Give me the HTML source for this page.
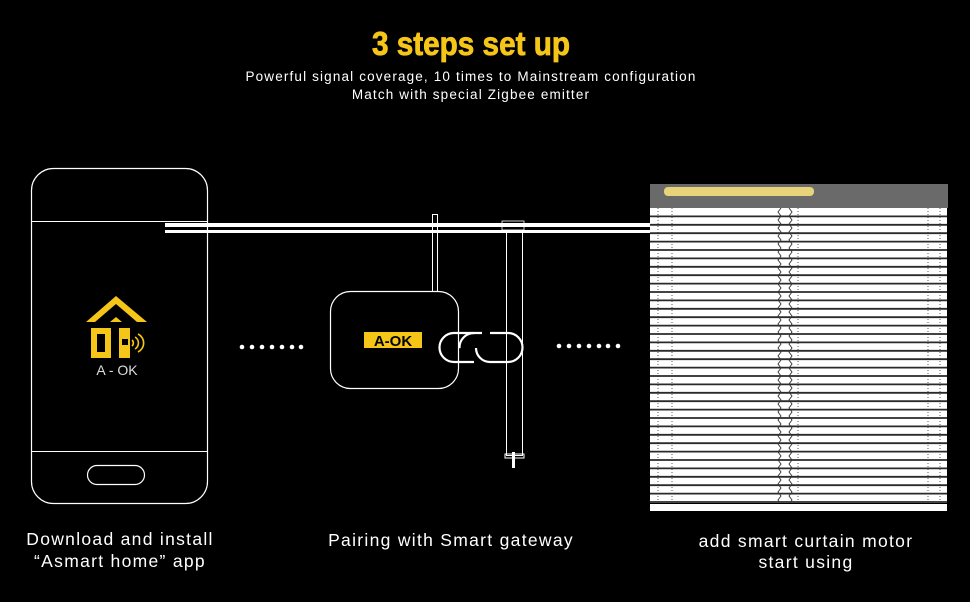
<!DOCTYPE html>
<html><head><meta charset="utf-8"><style>
body{margin:0;background:#000;width:970px;height:597px;overflow:hidden;font-family:"Liberation Sans",sans-serif;}
</style></head><body>
<svg width="970" height="597" viewBox="0 0 970 597" xmlns="http://www.w3.org/2000/svg">
<defs><clipPath id="bc"><rect x="650" y="208" width="297" height="294"/></clipPath></defs>
<rect width="970" height="597" fill="#000"/>
<text x="0" y="55" text-anchor="middle" font-family="Liberation Sans Narrow, Liberation Sans, sans-serif" font-weight="bold" font-size="33" fill="#f5c518" stroke="#f5c518" stroke-width="0.8" transform="translate(471 0) scale(0.9 1)">3 steps set up</text>
<text x="471" y="81" text-anchor="middle" font-size="13.5" letter-spacing="1.15" fill="#fff">Powerful signal coverage, 10 times to Mainstream configuration</text>
<text x="471" y="99" text-anchor="middle" font-size="13.5" letter-spacing="1.15" fill="#fff">Match with special Zigbee emitter</text>
<!-- phone -->
<rect x="31.5" y="168.5" width="176" height="335" rx="22" fill="none" stroke="#fff" stroke-width="1.2"/>
<line x1="32" y1="221.5" x2="207" y2="221.5" stroke="#fff"/>
<line x1="32" y1="451.5" x2="207" y2="451.5" stroke="#fff"/>
<rect x="87.5" y="465.5" width="57" height="19" rx="9.5" fill="none" stroke="#fff" stroke-width="1.2"/>
<!-- logo -->
<polygon points="86,322 116,296 147,322 137,322 116,304 95,322" fill="#f5c518"/>
<polygon points="110,322 116,317 122,322" fill="#f5c518"/>
<rect x="91" y="328" width="20" height="30" fill="#f5c518"/><rect x="97" y="334" width="8" height="18" fill="#000"/>
<rect x="119" y="328" width="11" height="30" fill="#f5c518"/><rect x="122" y="339" width="6" height="6" fill="#000"/>
<path d="M132 340 a4 4 0 0 1 0 6 M135 337 a7 7 0 0 1 0 12 M138 334 a10 10 0 0 1 0 18" fill="none" stroke="#f5c518" stroke-width="1.6"/>
<text x="117" y="375" text-anchor="middle" font-size="14" fill="#ddd">A - OK</text>
<!-- rails -->
<rect x="165" y="223" width="486" height="4" fill="#fff"/>
<rect x="165" y="230" width="486" height="3" fill="#fff"/>
<!-- antenna -->
<rect x="432.5" y="214.5" width="5" height="77" fill="none" stroke="#fff"/>
<!-- gateway -->
<rect x="330.5" y="291.5" width="128" height="97" rx="20" fill="#000" stroke="#fff" stroke-width="1.2"/>
<rect x="364" y="332" width="58" height="16" fill="#f5c518"/>
<text x="393" y="346" text-anchor="middle" font-weight="bold" font-size="15" fill="#000">A-OK</text>
<!-- motor -->
<rect x="502" y="221" width="22" height="9" fill="none" stroke="#fff" stroke-width="0.8"/>
<rect x="506.5" y="230.5" width="16" height="225" fill="none" stroke="#fff"/>
<rect x="505" y="454" width="19" height="4" fill="none" stroke="#fff"/>
<rect x="512" y="452" width="3" height="16" fill="#fff"/>
<!-- chain -->
<path d="M482 333 H454 a14.5 14.5 0 0 0 0 29 H474" fill="none" stroke="#fff" stroke-width="2.2"/>
<path d="M474 362 a14.5 14.5 0 0 1 0 -29" fill="none" stroke="#fff" stroke-width="2.2" stroke-dasharray="0 22 30"/>
<path d="M476 348 a14 14 0 0 0 14 14 H508 a14.5 14.5 0 0 0 0 -29 H490" fill="none" stroke="#fff" stroke-width="2.2"/>
<!-- dots -->
<g fill="#fff">
<circle cx="242" cy="347" r="2.3"/><circle cx="252" cy="347" r="2.3"/><circle cx="262" cy="347" r="2.3"/><circle cx="272" cy="347" r="2.3"/><circle cx="282" cy="347" r="2.3"/><circle cx="292" cy="347" r="2.3"/><circle cx="301" cy="347" r="2.3"/>
<circle cx="559" cy="346" r="2.3"/><circle cx="569" cy="346" r="2.3"/><circle cx="579" cy="346" r="2.3"/><circle cx="589" cy="346" r="2.3"/><circle cx="599" cy="346" r="2.3"/><circle cx="608" cy="346" r="2.3"/><circle cx="618" cy="346" r="2.3"/>
</g>
<!-- blind -->
<rect x="650" y="184" width="298" height="24" fill="#6a6a6a"/>
<rect x="664" y="187" width="150" height="9" rx="4" fill="#e8d27a"/>
<rect x="650" y="208" width="297" height="295" fill="#fff"/>
<g stroke="#2a2a2a" stroke-width="1.8">
<line x1="650" y1="216.4" x2="947" y2="216.4"/><line x1="650" y1="224.8" x2="947" y2="224.8"/><line x1="650" y1="233.2" x2="947" y2="233.2"/><line x1="650" y1="241.6" x2="947" y2="241.6"/><line x1="650" y1="250" x2="947" y2="250"/><line x1="650" y1="258.4" x2="947" y2="258.4"/><line x1="650" y1="266.8" x2="947" y2="266.8"/><line x1="650" y1="275.2" x2="947" y2="275.2"/><line x1="650" y1="283.6" x2="947" y2="283.6"/><line x1="650" y1="292" x2="947" y2="292"/><line x1="650" y1="300.4" x2="947" y2="300.4"/><line x1="650" y1="308.8" x2="947" y2="308.8"/><line x1="650" y1="317.2" x2="947" y2="317.2"/><line x1="650" y1="325.6" x2="947" y2="325.6"/><line x1="650" y1="334" x2="947" y2="334"/><line x1="650" y1="342.4" x2="947" y2="342.4"/><line x1="650" y1="350.8" x2="947" y2="350.8"/><line x1="650" y1="359.2" x2="947" y2="359.2"/><line x1="650" y1="367.6" x2="947" y2="367.6"/><line x1="650" y1="376" x2="947" y2="376"/><line x1="650" y1="384.4" x2="947" y2="384.4"/><line x1="650" y1="392.8" x2="947" y2="392.8"/><line x1="650" y1="401.2" x2="947" y2="401.2"/><line x1="650" y1="409.6" x2="947" y2="409.6"/><line x1="650" y1="418" x2="947" y2="418"/><line x1="650" y1="426.4" x2="947" y2="426.4"/><line x1="650" y1="434.8" x2="947" y2="434.8"/><line x1="650" y1="443.2" x2="947" y2="443.2"/><line x1="650" y1="451.6" x2="947" y2="451.6"/><line x1="650" y1="460" x2="947" y2="460"/><line x1="650" y1="468.4" x2="947" y2="468.4"/><line x1="650" y1="476.8" x2="947" y2="476.8"/><line x1="650" y1="485.2" x2="947" y2="485.2"/><line x1="650" y1="493.6" x2="947" y2="493.6"/><line x1="650" y1="502" x2="947" y2="502"/>
</g>
<g stroke="#333" stroke-width="0.8" stroke-dasharray="1 2">
<line x1="658" y1="208" x2="658" y2="502"/><line x1="672" y1="208" x2="672" y2="502"/><line x1="798" y1="208" x2="798" y2="502"/><line x1="928" y1="208" x2="928" y2="502"/><line x1="940" y1="208" x2="940" y2="502"/>
</g>
<g clip-path="url(#bc)">
<path d="M781 208 l-3 4 3 4 -3 4 3 4 -3 4 3 4 -3 4 3 4 -3 4 3 4 -3 4 3 4 -3 4 3 4 -3 4 3 4 -3 4 3 4 -3 4 3 4 -3 4 3 4 -3 4 3 4 -3 4 3 4 -3 4 3 4 -3 4 3 4 -3 4 3 4 -3 4 3 4 -3 4 3 4 -3 4 3 4 -3 4 3 4 -3 4 3 4 -3 4 3 4 -3 4 3 4 -3 4 3 4 -3 4 3 4 -3 4 3 4 -3 4 3 4 -3 4 3 4 -3 4 3 4 -3 4 3 4 -3 4 3 4 -3 4 3 4 -3 4 3 4 -3 4 3 4 -3 4 3 4 -3 4 3 4 -3 4 3 4 -3 4 3 4 -3 4 3 4 -3 4 3 4 -3 4 3 4 -3 4" fill="none" stroke="#333" stroke-width="0.9"/>
<path d="M789 208 l3 4 -3 4 3 4 -3 4 3 4 -3 4 3 4 -3 4 3 4 -3 4 3 4 -3 4 3 4 -3 4 3 4 -3 4 3 4 -3 4 3 4 -3 4 3 4 -3 4 3 4 -3 4 3 4 -3 4 3 4 -3 4 3 4 -3 4 3 4 -3 4 3 4 -3 4 3 4 -3 4 3 4 -3 4 3 4 -3 4 3 4 -3 4 3 4 -3 4 3 4 -3 4 3 4 -3 4 3 4 -3 4 3 4 -3 4 3 4 -3 4 3 4 -3 4 3 4 -3 4 3 4 -3 4 3 4 -3 4 3 4 -3 4 3 4 -3 4 3 4 -3 4 3 4 -3 4 3 4 -3 4 3 4 -3 4 3 4 -3 4 3 4 -3 4 3 4 -3 4 3 4 -3 4" fill="none" stroke="#333" stroke-width="0.9"/>
</g>
<rect x="650" y="504" width="297" height="7" fill="#fff"/>
<!-- labels -->
<g font-size="17.5" fill="#fff" text-anchor="middle" letter-spacing="1.3">
<text x="120" y="545">Download and install</text>
<text x="120" y="567">“Asmart home” app</text>
<text x="451" y="546">Pairing with Smart gateway</text>
<text x="806" y="547">add smart curtain motor</text>
<text x="806" y="568">start using</text>
</g>
</svg>
</body></html>
